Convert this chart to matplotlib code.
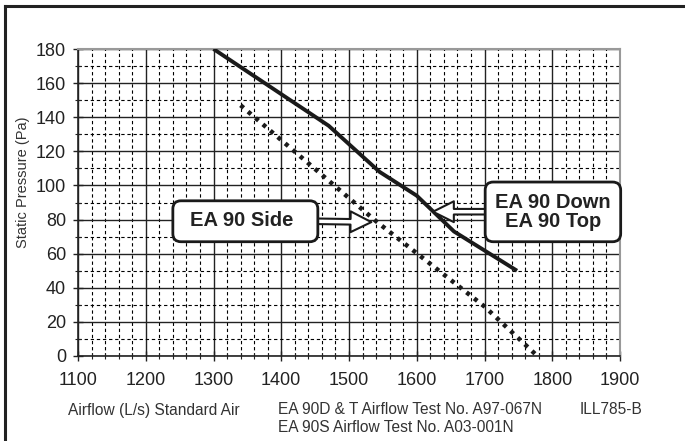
import matplotlib.pyplot as plt
from matplotlib.patches import FancyBboxPatch, FancyArrowPatch
from matplotlib.lines import Line2D
import numpy as np

plt.rcParams['font.family'] = ['Liberation Sans', 'DejaVu Sans']

# EA 90 Down / Top curve
down_x = [1300, 1470, 1545, 1600, 1655, 1748]
down_y = [180, 135, 108, 94, 73, 50]

# EA 90 Side curve
side_x = [1340, 1540, 1700, 1778]
side_y = [147, 79, 29, 0]

x_ticks = [1100, 1200, 1300, 1400, 1500, 1600, 1700, 1800, 1900]
y_ticks = [0, 20, 40, 60, 80, 100, 120, 140, 160, 180]

fig = plt.figure(figsize=(6.85, 4.41), dpi=100)
ax = fig.add_axes([78 / 685, 85 / 441, 542 / 685, 307 / 441])

ax.set_xlim(1100, 1900)
ax.set_ylim(0, 180)
ax.set_xticks(x_ticks)
ax.set_yticks(y_ticks)
ax.set_xticks(np.arange(1100, 1901, 20), minor=True)
ax.set_yticks(np.arange(0, 181, 10), minor=True)

ax.grid(True, which='major', color='#222222', linewidth=1.0)
ax.grid(True, which='minor', color='black', linewidth=0.8, linestyle=(0, (3, 2.5)))
ax.set_axisbelow(True)

ax.tick_params(which='major', direction='inout', length=7, width=1, labelsize=13,
               colors='#222222', pad=5)
ax.tick_params(which='minor', direction='inout', length=4, width=0.8, colors='#222222')
ax.tick_params(axis='x', which='major', pad=8)

for s in ['left', 'bottom']:
    ax.spines[s].set_color('#222222')
    ax.spines[s].set_linewidth(1.2)
for s in ['top', 'right']:
    ax.spines[s].set_color('#999999')
    ax.spines[s].set_linewidth(1.5)

ax.plot(down_x, down_y, color='#1a1a1a', linewidth=2.8, solid_capstyle='butt', zorder=4)
ax.plot(side_x, side_y, color='#1a1a1a', linewidth=3.2, linestyle=(0, (0.9, 1.3)), zorder=4)

# callout boxes
asp = (1 / 1.7056) / (1 / 0.6775)
side_box = FancyBboxPatch((1240, 67), 214, 24, boxstyle='round,pad=0,rounding_size=12',
                          mutation_aspect=asp, facecolor='white', edgecolor='#1a1a1a',
                          linewidth=2, zorder=6)
ax.add_patch(side_box)
ax.text(1342, 79.5, 'EA 90 Side', ha='center', va='center', fontsize=14.5,
        fontweight='bold', color='#222222', zorder=7)

down_box = FancyBboxPatch((1701, 67), 200, 35, boxstyle='round,pad=0,rounding_size=12',
                          mutation_aspect=asp, facecolor='white', edgecolor='#1a1a1a',
                          linewidth=2, zorder=6, clip_on=False)
ax.add_patch(down_box)
ax.text(1801, 84.5, 'EA 90 Down\nEA 90 Top', ha='center', va='center', fontsize=14.5,
        fontweight='bold', color='#222222', linespacing=1.0, zorder=7)

arrow_style = 'simple,head_length=15,head_width=15,tail_width=4'
ax.add_patch(FancyArrowPatch((1450, 79), (1533, 78.5), arrowstyle=arrow_style,
                             mutation_scale=1, shrinkA=0, shrinkB=0, facecolor='white',
                             edgecolor='#1a1a1a', linewidth=1.5, zorder=5))
ax.add_patch(FancyArrowPatch((1705, 84.6), (1624, 84.6), arrowstyle=arrow_style,
                             mutation_scale=1, shrinkA=0, shrinkB=0, facecolor='white',
                             edgecolor='#1a1a1a', linewidth=1.5, zorder=5))

# texts
fig.text(23 / 685, 1 - 182 / 441, 'Static Pressure (Pa)', rotation=90, ha='center',
         va='center', fontsize=10.5, color='#333333')
fig.text(68 / 685, 1 - 410 / 441, 'Airflow (L/s) Standard Air', ha='left', va='center',
         fontsize=11.2, color='#333333')
fig.text(278 / 685, 1 - 410 / 441, 'EA 90D & T Airflow Test No. A97-067N', ha='left',
         va='center', fontsize=11.2, color='#333333')
fig.text(278 / 685, 1 - 428 / 441, 'EA 90S Airflow Test No. A03-001N', ha='left',
         va='center', fontsize=11.2, color='#333333')
fig.text(580 / 685, 1 - 410 / 441, 'ILL785-B', ha='left', va='center',
         fontsize=11.2, color='#333333')

# outer frame (top and left edges)
fig.add_artist(Line2D([5 / 685, 1], [1 - 6 / 441, 1 - 6 / 441], color='#222222',
                      linewidth=2.2, transform=fig.transFigure))
fig.add_artist(Line2D([5 / 685, 5 / 685], [0, 1 - 6 / 441], color='#222222',
                      linewidth=2.2, transform=fig.transFigure))

fig.savefig('out.png', dpi=100)
